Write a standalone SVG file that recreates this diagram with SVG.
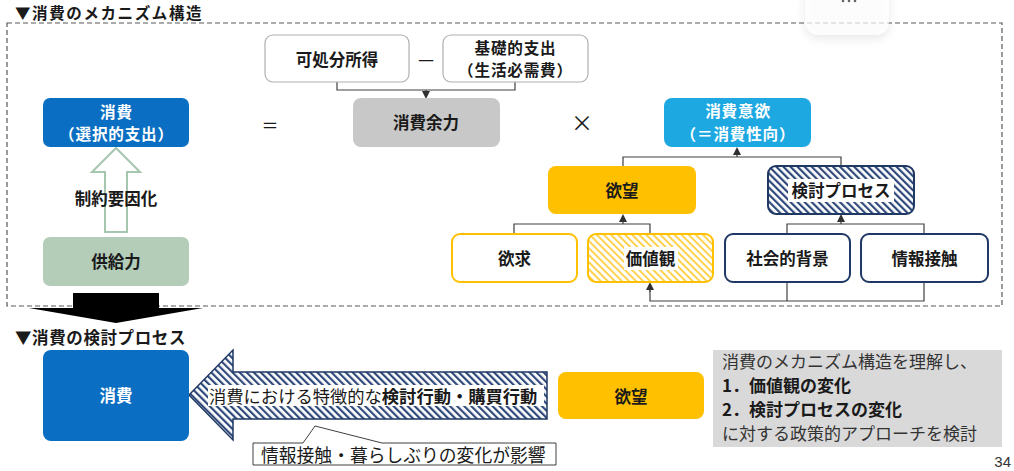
<svg xmlns="http://www.w3.org/2000/svg" width="1014" height="471" viewBox="0 0 1014 471">
<defs>
<style>
text{font-family:"Noto Sans CJK JP","Noto Sans",sans-serif;fill:#1a1a1a;}
.b{font-weight:bold;}
.c{text-anchor:middle;dominant-baseline:central;}
.lbl{font-size:16.5px;font-weight:bold;}
.lbl2{font-size:15.6px;font-weight:bold;letter-spacing:0.8px;}
.w{fill:#ffffff;}
.conn{fill:none;stroke:#404040;stroke-width:1.2;}
</style>
<marker id="ah" markerWidth="8" markerHeight="8" refX="4" refY="4" orient="auto" markerUnits="userSpaceOnUse">
<path d="M0,0 L8,4 L0,8 Z" fill="#303030"/>
</marker>
<pattern id="hatchNavy" patternUnits="userSpaceOnUse" width="5" height="5" patternTransform="rotate(-45)">
<rect width="5" height="5" fill="#ffffff"/>
<rect width="2.2" height="5" fill="#2f4a7a"/>
</pattern>
<pattern id="hatchYellow" patternUnits="userSpaceOnUse" width="5" height="5" patternTransform="rotate(-45)">
<rect width="5" height="5" fill="#ffffff"/>
<rect width="2" height="5" fill="#ffd24d"/>
</pattern>
<filter id="sh" x="-30%" y="-30%" width="160%" height="180%">
<feDropShadow dx="0" dy="4" stdDeviation="5" flood-color="#000" flood-opacity="0.12"/>
</filter>
</defs>

<rect width="1014" height="471" fill="#ffffff"/>

<!-- titles -->
<text x="15" y="11.5" class="b" font-size="15.5" letter-spacing="1.6" dominant-baseline="central">▼消費のメカニズム構造</text>
<text x="15" y="337" class="b" font-size="16.5" letter-spacing="0.6" dominant-baseline="central">▼消費の検討プロセス</text>

<!-- dashed frame -->
<rect x="7" y="23" width="995" height="283" fill="none" stroke="#595959" stroke-width="1.2" stroke-dasharray="5 3"/>

<!-- floating overlay -->
<rect x="805" y="-20" width="84" height="55" rx="14" fill="#ffffff" fill-opacity="0.7" filter="url(#sh)"/>
<circle cx="843" cy="1" r="1.3" fill="#666"/><circle cx="849" cy="1" r="1.3" fill="#666"/><circle cx="855" cy="1" r="1.3" fill="#666"/>

<!-- connectors -->
<g id="connectors">
<polyline class="conn" points="337,82 337,90 515,90 515,82"/>
<line class="conn" x1="426" y1="90" x2="426" y2="95" marker-end="url(#ah)"/>
<polyline class="conn" points="623,166 623,157 841,157 841,166"/>
<line class="conn" x1="737" y1="157" x2="737" y2="151" marker-end="url(#ah)"/>
<polyline class="conn" points="514,234 514,224 650,224 650,234"/>
<line class="conn" x1="623" y1="224" x2="623" y2="218" marker-end="url(#ah)"/>
<polyline class="conn" points="787,234 787,224 924,224 924,234"/>
<line class="conn" x1="841" y1="224" x2="841" y2="218" marker-end="url(#ah)"/>
<polyline class="conn" points="787,282 787,301"/>
<polyline class="conn" points="924,282 924,301 650,301 650,290"/>
<line class="conn" x1="650" y1="292" x2="650" y2="286" marker-end="url(#ah)"/>
<!-- hollow up arrow -->
<polygon points="116,148 140,172 127,172 127,232 105,232 105,172 92,172" fill="#ffffff" stroke="#a6c6b0" stroke-width="2"/>
<!-- black down arrow -->
<polygon points="73,293 159,293 159,308 203,308 116,323 29,308 73,308" fill="#000000"/>
<!-- hatched left arrow -->
<polygon points="189,395 233,350 233,372 547,372 547,419 233,419 233,440" fill="url(#hatchNavy)" stroke="#1f3864" stroke-width="1.5"/>
<!-- callout -->
<path d="M253,443 H303 L315,426 L382,443 H556 V465 H253 Z" fill="#ffffff" stroke="#404040" stroke-width="1"/>
</g>

<text x="270" y="124" class="c" font-size="17">＝</text>
<text x="426" y="58" class="c" font-size="18">—</text>
<text x="582" y="121" class="c" font-size="22">×</text>
<text x="116" y="198" class="c lbl">制約要因化</text>

<g id="n-kashobun">
<rect x="265" y="35" width="144" height="47" rx="8" fill="#ffffff" stroke="#b0b0b0" stroke-width="1.2"/>
<text x="337" y="58.5" class="c lbl">可処分所得</text>
</g>
<g id="n-kiso">
<rect x="443" y="35" width="145" height="47" rx="8" fill="#ffffff" stroke="#b0b0b0" stroke-width="1.2"/>
<text x="515.5" y="46.5" class="c lbl2">基礎的支出</text>
<text x="515.5" y="69" class="c lbl2">（生活必需費）</text>
</g>
<g id="n-yoryoku">
<rect x="353" y="98" width="147" height="49" rx="8" fill="#c8c8c8"/>
<text x="426" y="122" class="c lbl">消費余力</text>
</g>
<g id="n-shohi-top">
<rect x="43" y="98" width="146" height="49" rx="7" fill="#0a6fc2"/>
<text x="116.5" y="110.5" class="c lbl2 w">消費</text>
<text x="116.5" y="133" class="c lbl2 w">（選択的支出）</text>
</g>
<g id="n-kyokyu">
<rect x="43" y="237" width="146" height="49" rx="7" fill="#b3cdb9"/>
<text x="116" y="261" class="c lbl">供給力</text>
</g>
<g id="n-iyoku">
<rect x="664" y="98" width="147" height="49" rx="8" fill="#1ea8e2"/>
<text x="738" y="110" class="c lbl2 w">消費意欲</text>
<text x="738" y="132.5" class="c lbl2 w">（＝消費性向）</text>
</g>
<g id="n-yokubo">
<rect x="548" y="166" width="148" height="48" rx="8" fill="#ffc000"/>
<text x="622" y="190" class="c lbl">欲望</text>
</g>
<g id="n-kento">
<rect x="768" y="166" width="146" height="48" rx="8" fill="url(#hatchNavy)" stroke="#1f3864" stroke-width="2"/>
<rect x="788" y="179" width="106" height="23" fill="#ffffff"/>
<text x="841" y="190" class="c lbl">検討プロセス</text>
</g>
<g id="n-yokkyu">
<rect x="452" y="234" width="125" height="48" rx="8" fill="#ffffff" stroke="#ffc000" stroke-width="2"/>
<text x="514.5" y="258" class="c lbl">欲求</text>
</g>
<g id="n-kachikan">
<rect x="588" y="234" width="125" height="48" rx="8" fill="url(#hatchYellow)" stroke="#ffc000" stroke-width="2"/>
<rect x="624" y="247" width="54" height="23" fill="#ffffff"/>
<text x="650.5" y="258" class="c lbl">価値観</text>
</g>
<g id="n-shakai">
<rect x="725" y="234" width="125" height="48" rx="8" fill="#ffffff" stroke="#1f3864" stroke-width="2"/>
<text x="787.5" y="258" class="c lbl">社会的背景</text>
</g>
<g id="n-joho">
<rect x="861" y="234" width="127" height="48" rx="8" fill="#ffffff" stroke="#1f3864" stroke-width="2"/>
<text x="924.5" y="258" class="c lbl">情報接触</text>
</g>

<g id="n-shohi-bottom">
<rect x="43" y="350" width="146" height="91" rx="8" fill="#0a6fc2"/>
<text x="116" y="395" class="c lbl w">消費</text>
</g>
<g id="n-arrow-text">
<rect x="208" y="385" width="336" height="21" fill="#ffffff"/>
<text x="209" y="395" font-size="17.3" dominant-baseline="central">消費における特徴的な<tspan class="b">検討行動・購買行動</tspan></text>
</g>
<g id="n-callout">
<text x="261" y="453.5" font-size="17.8" dominant-baseline="central">情報接触・暮らしぶりの変化が影響</text>
</g>
<g id="n-yokubo-bottom">
<rect x="558" y="372" width="146" height="47" rx="8" fill="#ffc000"/>
<text x="631" y="395.5" class="c lbl">欲望</text>
</g>
<g id="n-note">
<rect x="713" y="350" width="289" height="97" fill="#d9d9d9"/>
<text x="722" y="360" font-size="17" dominant-baseline="central" style="fill:#333">消費のメカニズム構造を理解し、</text>
<text x="722" y="384" font-size="17" class="b" dominant-baseline="central">1．価値観の変化</text>
<text x="722" y="408" font-size="17" class="b" dominant-baseline="central">2．検討プロセスの変化</text>
<text x="722" y="432" font-size="17" dominant-baseline="central" style="fill:#333">に対する政策的アプローチを検討</text>
</g>
<text x="1011" y="467" font-size="15" text-anchor="end" style="font-family:'Liberation Sans',sans-serif;fill:#333">34</text>
</svg>
